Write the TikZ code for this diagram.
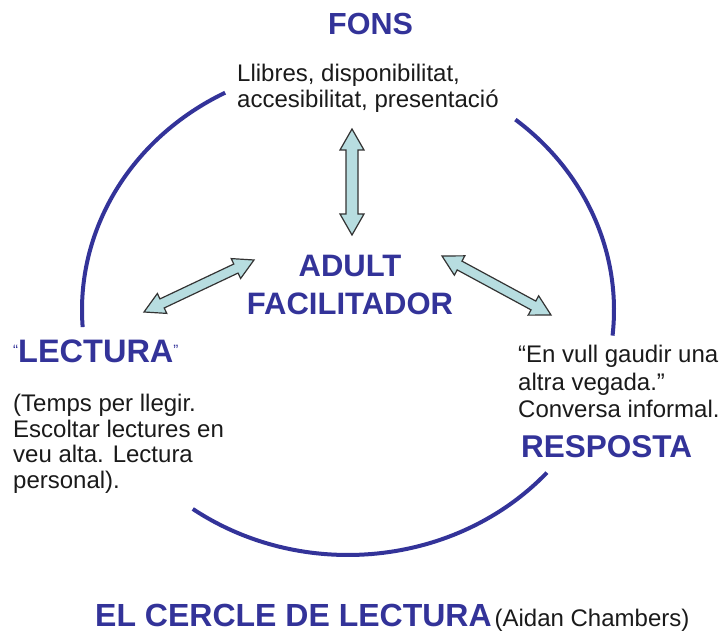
\documentclass[tikz,border=0pt]{standalone}
\usepackage{fontspec}
\setmainfont{Liberation Sans}
\usetikzlibrary{calc}
\definecolor{navy}{HTML}{333399}
\definecolor{arrfill}{HTML}{B7DDE0}
\definecolor{arrline}{HTML}{333333}
\definecolor{bodyc}{HTML}{1A1A1A}
\tikzset{
  titletext/.style={text=navy, font=\fontsize{30}{38}\selectfont\bfseries, inner sep=0pt},
  bodytext/.style={text=bodyc, font=\fontsize{24}{25.5}\selectfont, inner sep=0pt, align=left},
  ring/.style={draw=navy, line width=4pt},
  fat/.style={draw=arrline, fill=arrfill, line width=1.2pt, line join=miter},
}
% fat double arrow between two named coordinates: #1 from, #2 to, #3 shaft half width, #4 head half width, #5 head length
\newcommand\fatarrow[5]{%
  \draw[fat] (#1)
    -- ($(#1)!#5!(#2)!#4!90:(#2)$) -- ($(#1)!#5!(#2)!#3!90:(#2)$)
    -- ($(#2)!#5!(#1)!#3!-90:(#1)$) -- ($(#2)!#5!(#1)!#4!-90:(#1)$)
    -- (#2)
    -- ($(#2)!#5!(#1)!#4!90:(#1)$) -- ($(#2)!#5!(#1)!#3!90:(#1)$)
    -- ($(#1)!#5!(#2)!#3!-90:(#2)$) -- ($(#1)!#5!(#2)!#4!-90:(#2)$)
    -- cycle;}
\begin{document}
\begin{tikzpicture}[x=1pt, y=1pt]
\useasboundingbox (0,0) rectangle (724,634);

% ring
\coordinate (ctr) at (348,324);
\draw[ring] (ctr) ++(117.5:266pt and 245pt) arc[start angle=117.5, end angle=184, x radius=266pt, y radius=245pt];
\draw[ring] (ctr) ++(234.3:266pt and 245pt) arc[start angle=234.3, end angle=318.4, x radius=266pt, y radius=245pt];
\draw[ring] (ctr) ++(-6:266pt and 245pt) arc[start angle=-6, end angle=51, x radius=266pt, y radius=245pt];

% texts (base anchor = baseline of the last line)
\node[titletext, font=\fontsize{30.5}{38}\selectfont\bfseries, anchor=base] (fons) at (370.5,599) {FONS};
\node[bodytext, font=\fontsize{24}{26}\selectfont, anchor=base west] (fonsinfo) at (237,526) {Llibres, disponibilitat,\\accesibilitat, presentació};
\node[titletext, font=\fontsize{31}{38}\selectfont\bfseries, align=center, anchor=base] (adult) at (350,319) {ADULT\\FACILITADOR};
\node[titletext, font=\fontsize{32.5}{38}\selectfont\bfseries, anchor=base west] (lectura) at (13,271) {\raisebox{7pt}{\fontsize{15}{15}\selectfont\mdseries “}LECTURA\raisebox{7pt}{\fontsize{15}{15}\selectfont\mdseries ”}};
\node[bodytext, anchor=base west] (lecturainfo) at (13,145.5) {(Temps per llegir.\\Escoltar lectures en\\veu alta. Lectura\\personal).};
\node[bodytext, font=\fontsize{24}{27.5}\selectfont, anchor=base west] (respostainfo) at (518,216) {“En vull gaudir una\\altra vegada.”\\Conversa informal.};
\node[titletext, font=\fontsize{31.5}{38}\selectfont\bfseries, anchor=base west] (resposta) at (521,176) {RESPOSTA};
\node[titletext, font=\fontsize{32}{38}\selectfont\bfseries, anchor=base west] (cercle) at (95,7) {EL CERCLE DE LECTURA\hspace{3pt}{\fontsize{24}{26}\selectfont\mdseries\color{bodyc}(Aidan Chambers)}};

% arrow ends
\coordinate (fonsend) at (352,505);
\coordinate (adulttop) at (352,399);
\coordinate (adultleft) at (254,374);
\coordinate (lecturaend) at (144,322);
\coordinate (adultright) at (442,378);
\coordinate (respostaend) at (551,319);

\fatarrow{fonsend}{adulttop}{6pt}{12pt}{21pt}
\fatarrow{lecturaend}{adultleft}{5pt}{11pt}{20pt}
\fatarrow{adultright}{respostaend}{5pt}{11pt}{20pt}
\end{tikzpicture}
\end{document}
